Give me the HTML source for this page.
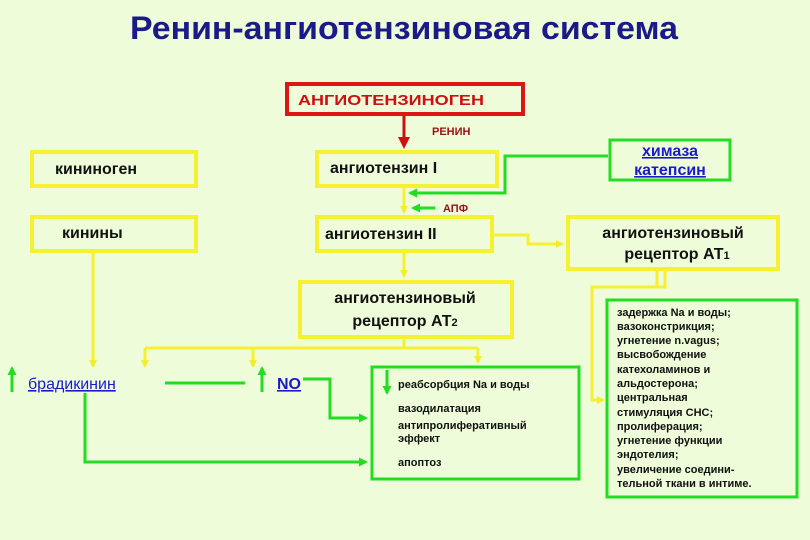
<!DOCTYPE html>
<html><head><meta charset="utf-8"><style>
html,body{margin:0;padding:0;background:#effcd9;}
svg{display:block;font-family:"Liberation Sans",sans-serif;}
</style></head><body>
<svg width="810" height="540" viewBox="0 0 810 540" xmlns="http://www.w3.org/2000/svg">
<rect width="810" height="540" fill="#effcd9"/>
<defs>
<marker id="ay" markerWidth="8" markerHeight="8" refX="6" refY="4" orient="auto" markerUnits="userSpaceOnUse"><path d="M0,0 L8,4 L0,8z" fill="#f2ee2a"/></marker>
<marker id="ag" markerWidth="9" markerHeight="9" refX="7" refY="4.5" orient="auto" markerUnits="userSpaceOnUse"><path d="M0,0 L9,4.5 L0,9z" fill="#22dd22"/></marker>
<marker id="ar" markerWidth="12" markerHeight="12" refX="9" refY="6" orient="auto" markerUnits="userSpaceOnUse"><path d="M0,0 L12,6 L0,12z" fill="#cc1111"/></marker>
</defs>
<text x="130" y="39" font-size="32" font-weight="bold" fill="#1a1a88" textLength="548" lengthAdjust="spacingAndGlyphs">Ренин-ангиотензиновая система</text>

<rect x="287" y="84" width="236" height="30" fill="none" stroke="#dd1515" stroke-width="4"/>
<text x="298" y="105" font-size="15" font-weight="bold" fill="#cc1111" textLength="186" lengthAdjust="spacingAndGlyphs">АНГИОТЕНЗИНОГЕН</text>
<line x1="404" y1="116" x2="404" y2="146" stroke="#cc1111" stroke-width="3" marker-end="url(#ar)"/>
<text x="432" y="135" font-size="11" font-weight="bold" fill="#991111">РЕНИН</text>

<g fill="none" stroke="#f5f030" stroke-width="4">
<rect x="317" y="152" width="180" height="34"/>
<rect x="32" y="152" width="164" height="34"/>
<rect x="317" y="217" width="175" height="34"/>
<rect x="32" y="217" width="164" height="34"/>
<rect x="568" y="217" width="210" height="52"/>
<rect x="300" y="282" width="212" height="55"/>
</g>
<rect x="610" y="140" width="120" height="40" fill="none" stroke="#22dd22" stroke-width="3"/>
<rect x="372" y="367" width="207" height="112" fill="none" stroke="#22dd22" stroke-width="3"/>
<rect x="607" y="300" width="190" height="197" fill="none" stroke="#22dd22" stroke-width="3"/>

<g font-size="16" font-weight="bold" fill="#111">
<text x="330" y="173">ангиотензин I</text>
<text x="55" y="174">кининоген</text>
<text x="325" y="239">ангиотензин II</text>
<text x="62" y="238">кинины</text>
<text x="673" y="238" text-anchor="middle">ангиотензиновый</text>
<text x="677" y="259" text-anchor="middle">рецептор АТ<tspan font-size="11">1</tspan></text>
<text x="405" y="303" text-anchor="middle">ангиотензиновый</text>
<text x="405" y="326" text-anchor="middle">рецептор АТ<tspan font-size="11">2</tspan></text>
</g>
<g font-size="16" font-weight="bold" fill="#1a1acc" text-decoration="underline">
<text x="670" y="156" text-anchor="middle">химаза</text>
<text x="670" y="175" text-anchor="middle">катепсин</text>
</g>
<text x="28" y="389" font-size="16" fill="#1a1acc" text-decoration="underline">брадикинин</text>
<text x="277" y="389" font-size="16" font-weight="bold" fill="#1a1acc" text-decoration="underline">NO</text>

<text x="443" y="212" font-size="11" font-weight="bold" fill="#991111">АПФ</text>

<g fill="none" stroke="#f5f030" stroke-width="3">
<line x1="404" y1="188" x2="404" y2="212" marker-end="url(#ay)"/>
<line x1="404" y1="253" x2="404" y2="276" marker-end="url(#ay)"/>
<polyline points="494,235 528,235 528,244 562,244" marker-end="url(#ay)"/>
<line x1="404" y1="339" x2="404" y2="348"/>
<line x1="145" y1="348" x2="478" y2="348"/>
<line x1="145" y1="348" x2="145" y2="366" marker-end="url(#ay)"/>
<line x1="253" y1="348" x2="253" y2="366" marker-end="url(#ay)"/>
<line x1="478" y1="348" x2="478" y2="362" marker-end="url(#ay)"/>
<line x1="93" y1="253" x2="93" y2="366" marker-end="url(#ay)"/>
<polyline points="665,271 665,287 592,287 592,400 603,400" marker-end="url(#ay)"/>
<line x1="657" y1="271" x2="657" y2="287"/>
</g>

<g fill="none" stroke="#22dd22" stroke-width="3">
<polyline points="608,156 505,156 505,193 410,193" marker-end="url(#ag)"/>
<line x1="435" y1="208" x2="413" y2="208" marker-end="url(#ag)"/>
<line x1="165" y1="383" x2="245" y2="383"/>
<polyline points="303,379 330,379 330,418 366,418" marker-end="url(#ag)"/>
<polyline points="85,393 85,462 366,462" marker-end="url(#ag)"/>
<line x1="12" y1="392" x2="12" y2="368" marker-end="url(#ag)"/>
<line x1="262" y1="392" x2="262" y2="368" marker-end="url(#ag)"/>
<line x1="387" y1="370" x2="387" y2="393" marker-end="url(#ag)"/>
</g>

<g font-size="11" fill="#111" font-weight="600">
<text x="398" y="388">реабсорбция Na и воды</text>
<text x="398" y="412">вазодилатация</text>
<text x="398" y="429">антипролиферативный</text>
<text x="398" y="442">эффект</text>
<text x="398" y="466">апоптоз</text>
</g>
<g font-size="11" fill="#111" font-weight="bold">
<text x="617" y="316">задержка Na и воды;</text>
<text x="617" y="330">вазоконстрикция;</text>
<text x="617" y="344">угнетение n.vagus;</text>
<text x="617" y="358">высвобождение</text>
<text x="617" y="373">катехоламинов и</text>
<text x="617" y="387">альдостерона;</text>
<text x="617" y="401">центральная</text>
<text x="617" y="416">стимуляция СНС;</text>
<text x="617" y="430">пролиферация;</text>
<text x="617" y="444">угнетение функции</text>
<text x="617" y="458">эндотелия;</text>
<text x="617" y="473">увеличение соедини-</text>
<text x="617" y="487">тельной ткани в интиме.</text>
</g>
</svg>
</body></html>
